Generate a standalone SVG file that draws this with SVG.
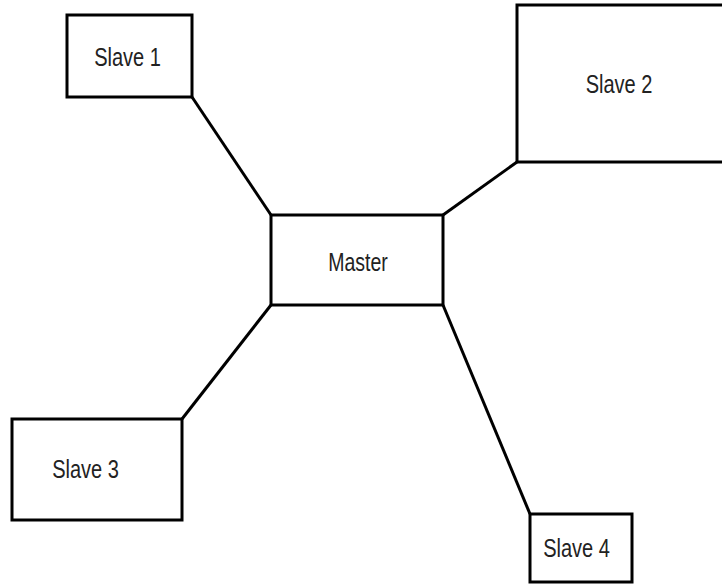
<svg xmlns="http://www.w3.org/2000/svg" width="722" height="585" viewBox="0 0 722 585">
<style>
.box{fill:#fff;stroke:#000;stroke-width:3}
.lbl{font-family:"Liberation Sans",Arial,sans-serif;font-size:26px;fill:#222;text-anchor:middle}
.con{stroke:#000;stroke-width:3;fill:none}
</style>
<rect width="722" height="585" fill="#fff"/>
<g id="connectors">
<line class="con" x1="192" y1="97" x2="271" y2="215"/>
<line class="con" x1="443" y1="215" x2="517" y2="162"/>
<line class="con" x1="271" y1="305" x2="182" y2="419"/>
<line class="con" x1="443" y1="305" x2="530" y2="514"/>
</g>
<g id="slave1"><rect class="box" x="67" y="15" width="125" height="82"/><text class="lbl" transform="translate(127.5,66) scale(0.77,1)">Slave 1</text></g>
<g id="slave2"><rect class="box" x="517" y="5" width="210" height="157"/><text class="lbl" transform="translate(619,93) scale(0.77,1)">Slave 2</text></g>
<g id="master"><rect class="box" x="271" y="215" width="172" height="90"/><text class="lbl" transform="translate(358,271) scale(0.75,1)">Master</text></g>
<g id="slave3"><rect class="box" x="12" y="419" width="170" height="101"/><text class="lbl" transform="translate(85.5,478) scale(0.77,1)">Slave 3</text></g>
<g id="slave4"><rect class="box" x="530" y="514" width="102" height="68"/><text class="lbl" transform="translate(576.5,557) scale(0.77,1)">Slave 4</text></g>
</svg>
